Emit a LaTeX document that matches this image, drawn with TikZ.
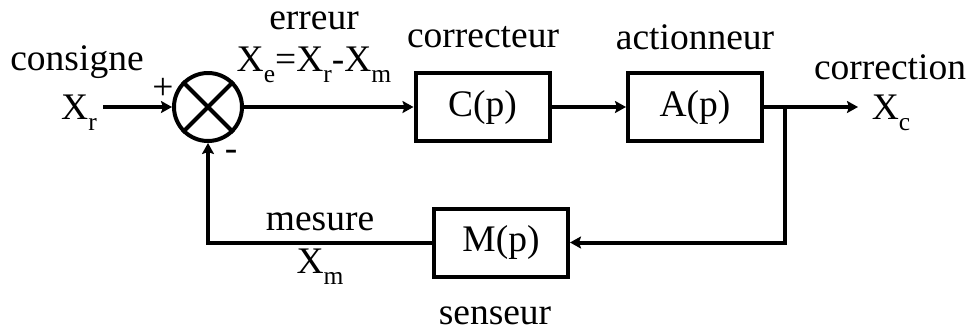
\documentclass[tikz,border=0pt]{standalone}
\usepackage{fontspec}
\setmainfont{Liberation Serif}
\usetikzlibrary{arrows.meta}
\newcommand{\indice}[1]{\raisebox{-0.3em}{\fontsize{25.5}{26}\selectfont #1}}
\begin{document}
\begin{tikzpicture}[x=1pt, y=-1pt, >={Stealth[length=11pt, width=12pt, inset=2pt]},
  every node/.style={font=\fontsize{37.5}{41}\selectfont},
  bloc/.style={draw, line width=4pt, minimum width=134pt, minimum height=68pt, inner sep=0pt},
  fil/.style={line width=4pt}]
  \useasboundingbox (0,0) rectangle (969,333);
  % comparateur
  \node[circle, draw, line width=4pt, minimum size=68pt, inner sep=0pt] (som) at (208,107) {};
  \draw[fil] (som.north west) -- (som.south east);
  \draw[fil] (som.north east) -- (som.south west);
  % blocs
  \node[bloc] (cor) at (482.5,107) {C(p)};
  \node[bloc] (act) at (695,107) {A(p)};
  \node[bloc] (sen) at (501,242.5) {M(p)};
  \coordinate (entree) at (103,107);
  \coordinate (sortie) at (858,107);
  \coordinate (noeud) at (785,107);
  % liaisons
  \draw[fil,->] (entree) -- (som);
  \draw[fil,->] (som) -- (cor);
  \draw[fil,->] (cor) -- (act);
  \draw[fil,->] (act) -- (sortie);
  \draw[fil,->] (noeud) |- (sen); % retour
  \draw[fil,->] (sen) -| (som);
  % textes
  \node (consigne) at (77,62) {consigne};
  \node (xr) at (79,113) {X\indice{r}};
  \node (plus) at (163,89) {+};
  \node (moins) at (231,155) {-};
  \node (erreur) at (314,21) {erreur};
  \node (xe) at (314,65) {X\indice{e}=X\indice{r}-X\indice{m}};
  \node (correcteur) at (483,37) {correcteur};
  \node (actionneur) at (695,37) {actionneur};
  \node (correction) at (890,67) {correction};
  \node (xc) at (891,113) {X\indice{c}};
  \node (mesure) at (320,222) {mesure};
  \node (xm) at (320,267) {X\indice{m}};
  \node (senseur) at (495,316) {senseur};
\end{tikzpicture}
\end{document}
